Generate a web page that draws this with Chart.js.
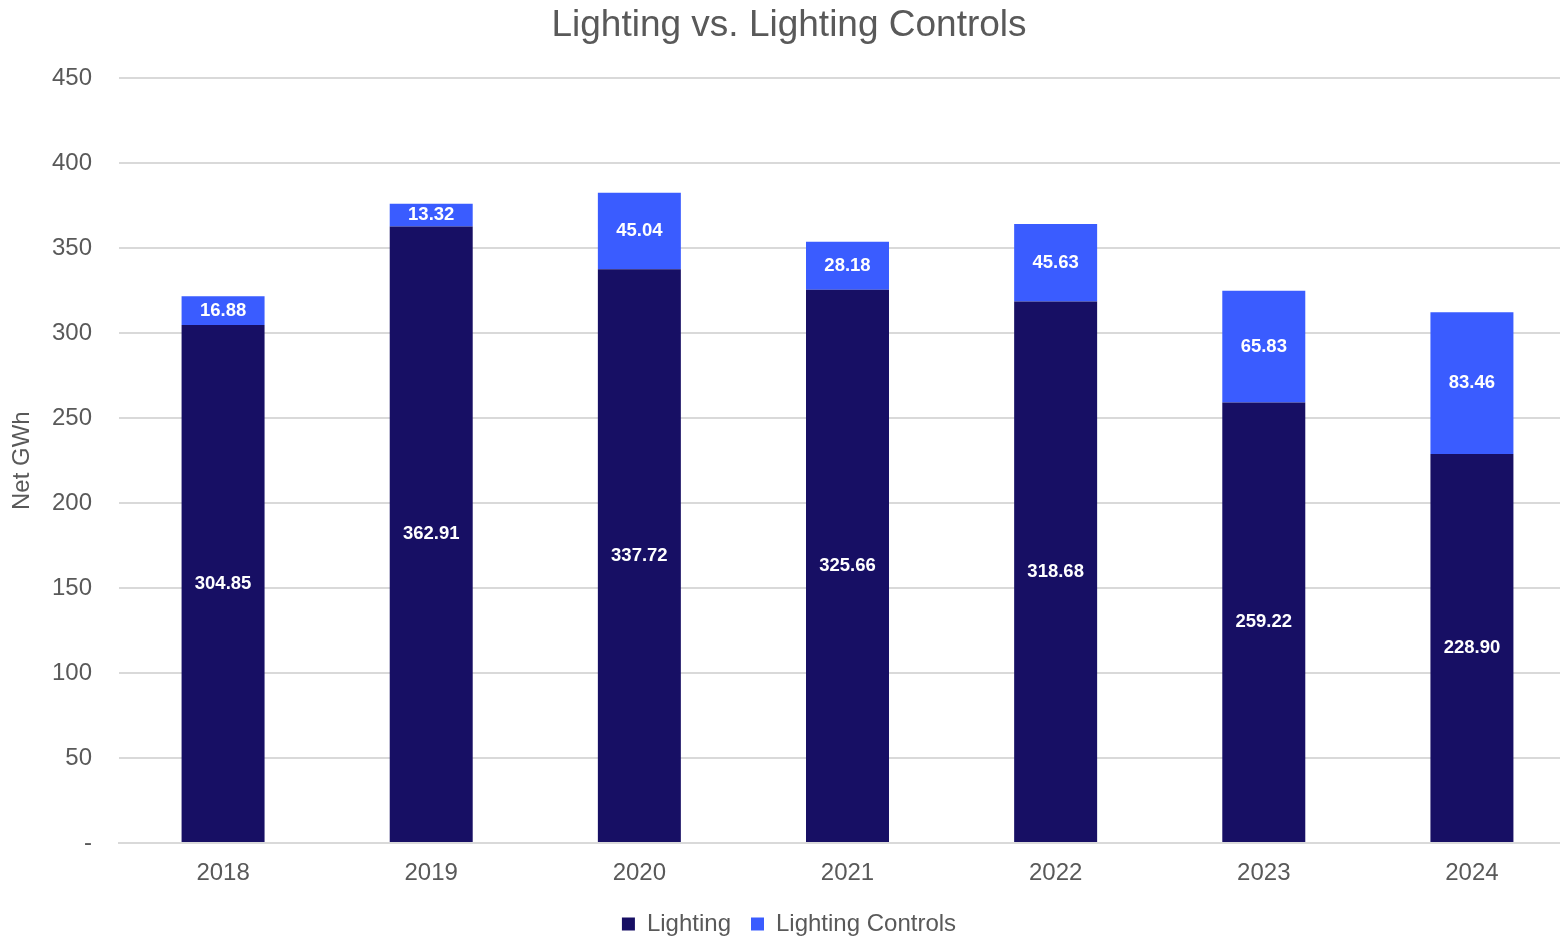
<!DOCTYPE html>
<html>
<head>
<meta charset="utf-8">
<script src="https://cdn.jsdelivr.net/npm/chart.js@4.4.1/dist/chart.umd.min.js"></script>
<style>
  html, body { margin: 0; padding: 0; background: #fff; overflow: hidden; width: 1560px; height: 936px; }
  canvas { display: block; }
</style>
</head>
<body>
<canvas id="c" width="1576" height="936"></canvas>
<script>
const categories = ['2018', '2019', '2020', '2021', '2022', '2023', '2024'];
const lighting = [304.85, 362.91, 337.72, 325.66, 318.68, 259.22, 228.90];
const lightingControls = [16.88, 13.32, 45.04, 28.18, 45.63, 65.83, 83.46];
const yTicks = [0, 50, 100, 150, 200, 250, 300, 350, 400, 450];

const FONT = "'Liberation Sans', Arial, sans-serif";
const GREY = '#595959';

const barLabels = {
  id: 'barLabels',
  afterDatasetsDraw(chart) {
    const ctx = chart.ctx;
    ctx.save();
    ctx.font = 'bold 18.5px ' + FONT;
    ctx.fillStyle = '#ffffff';
    ctx.textAlign = 'center';
    ctx.textBaseline = 'middle';
    chart.data.datasets.forEach((ds, di) => {
      const meta = chart.getDatasetMeta(di);
      meta.data.forEach((bar, i) => {
        const p = bar.getProps(['x', 'y', 'base'], true);
        const yMid = (p.y + p.base) / 2;
        ctx.fillText(ds.data[i].toFixed(2), p.x, yMid);
      });
    });
    ctx.restore();
  }
};

const chart = new Chart(document.getElementById('c'), {
  type: 'bar',
  data: {
    labels: categories,
    datasets: [
      { label: 'Lighting', data: lighting, backgroundColor: '#170F64', borderWidth: 0, barPercentage: 0.9, categoryPercentage: 0.443 },
      { label: 'Lighting Controls', data: lightingControls, backgroundColor: '#3A5CFF', borderWidth: 0, barPercentage: 0.9, categoryPercentage: 0.443 }
    ]
  },
  options: {
    responsive: false,
    animation: false,
    devicePixelRatio: 1,
    layout: { padding: { left: 2, right: 0, top: 4, bottom: 0 } },
    plugins: {
      title: {
        display: true,
        text: 'Lighting vs. Lighting Controls',
        color: GREY,
        font: { family: FONT, size: 37, weight: 'normal' },
        padding: { top: 0, bottom: 30 }
      },
      legend: {
        position: 'bottom',
        labels: {
          color: GREY,
          font: { family: FONT, size: 24 },
          boxWidth: 13,
          boxHeight: 13,
          padding: 20
        }
      },
      tooltip: { enabled: false }
    },
    scales: {
      x: {
        stacked: true,
        grid: { display: false, drawTicks: false },
        border: { display: true, color: '#d9d9d9', width: 2 },
        ticks: { color: GREY, font: { family: FONT, size: 24 }, padding: 16 },
        afterFit(axis) { axis.height = 49; }
      },
      y: {
        stacked: true,
        min: 0,
        max: 450,
        afterBuildTicks(axis) { axis.ticks = yTicks.map(v => ({ value: v })); },
        afterFit(axis) { axis.width = 117; },
        grid: { color: '#d9d9d9', lineWidth: 2, drawTicks: false },
        border: { display: false },
        title: { display: true, text: 'Net GWh', color: GREY, font: { family: FONT, size: 24 }, padding: { top: 6, bottom: 0 } },
        ticks: {
          color: GREY,
          font: { family: FONT, size: 24 },
          padding: 27,
          callback: (v) => v === 0 ? '-' : String(v)
        }
      }
    }
  },
  plugins: [barLabels]
});

// keep the legend compact so its row sits near the bottom edge
const origFit = chart.legend.fit;
chart.legend.fit = function () { origFit.call(this); this.height = 44; };
chart.update();
</script>
</body>
</html>
